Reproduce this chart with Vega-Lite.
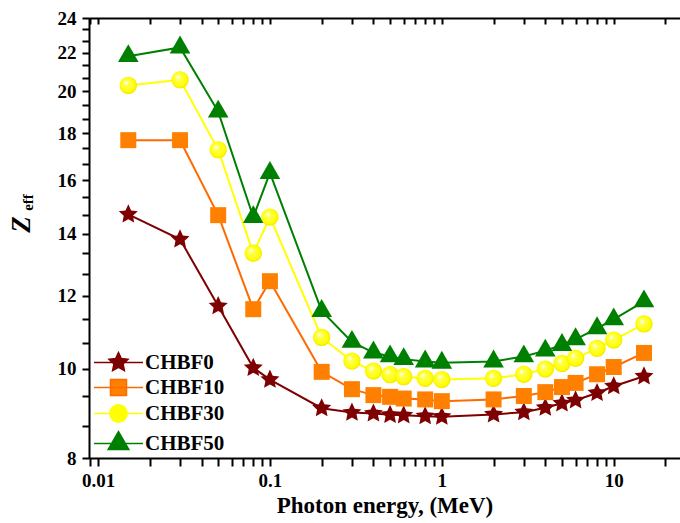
{
"$schema":"https://vega.github.io/schema/vega-lite/v6.json",
"width":591,"height":440,"autosize":"none",
"padding":{"left":89,"top":18,"right":0,"bottom":65},
"background":"white",
"config":{"view":{"stroke":null},"font":"Liberation Serif",
 "axis":{"grid":false,"domainColor":"#000","tickColor":"#000","labelColor":"#000","titleColor":"#000","domainWidth":2,"tickWidth":2,"labelFont":"Liberation Serif","titleFont":"Liberation Serif","labelFontWeight":700,"titleFontWeight":700},
 "legend":{"labelFont":"Liberation Serif","labelFontSize":21,"labelFontWeight":700,"labelColor":"#000"}},
"data":{"values":[
{"s":"CHBF0","E":0.015,"Z":14.70},{"s":"CHBF0","E":0.03,"Z":13.81},{"s":"CHBF0","E":0.05,"Z":11.69},{"s":"CHBF0","E":0.08,"Z":10.02},{"s":"CHBF0","E":0.1,"Z":9.73},{"s":"CHBF0","E":0.2,"Z":9.06},{"s":"CHBF0","E":0.3,"Z":8.96},{"s":"CHBF0","E":0.4,"Z":8.94},{"s":"CHBF0","E":0.5,"Z":8.91},{"s":"CHBF0","E":0.6,"Z":8.90},{"s":"CHBF0","E":0.8,"Z":8.88},{"s":"CHBF0","E":1,"Z":8.87},{"s":"CHBF0","E":2,"Z":8.92},{"s":"CHBF0","E":3,"Z":8.97},{"s":"CHBF0","E":4,"Z":9.07},{"s":"CHBF0","E":5,"Z":9.17},{"s":"CHBF0","E":6,"Z":9.24},{"s":"CHBF0","E":8,"Z":9.41},{"s":"CHBF0","E":10,"Z":9.57},{"s":"CHBF0","E":15,"Z":9.81},
{"s":"CHBF10","E":0.015,"Z":17.69},{"s":"CHBF10","E":0.03,"Z":17.69},{"s":"CHBF10","E":0.05,"Z":14.67},{"s":"CHBF10","E":0.08,"Z":11.6},{"s":"CHBF10","E":0.1,"Z":12.44},{"s":"CHBF10","E":0.2,"Z":9.92},{"s":"CHBF10","E":0.3,"Z":9.50},{"s":"CHBF10","E":0.4,"Z":9.36},{"s":"CHBF10","E":0.5,"Z":9.32},{"s":"CHBF10","E":0.6,"Z":9.28},{"s":"CHBF10","E":0.8,"Z":9.26},{"s":"CHBF10","E":1,"Z":9.22},{"s":"CHBF10","E":2,"Z":9.26},{"s":"CHBF10","E":3,"Z":9.34},{"s":"CHBF10","E":4,"Z":9.43},{"s":"CHBF10","E":5,"Z":9.55},{"s":"CHBF10","E":6,"Z":9.65},{"s":"CHBF10","E":8,"Z":9.86},{"s":"CHBF10","E":10,"Z":10.04},{"s":"CHBF10","E":15,"Z":10.40},
{"s":"CHBF30","E":0.015,"Z":20.28},{"s":"CHBF30","E":0.03,"Z":20.57},{"s":"CHBF30","E":0.05,"Z":17.27},{"s":"CHBF30","E":0.08,"Z":13.34},{"s":"CHBF30","E":0.1,"Z":14.6},{"s":"CHBF30","E":0.2,"Z":10.81},{"s":"CHBF30","E":0.3,"Z":10.19},{"s":"CHBF30","E":0.4,"Z":9.94},{"s":"CHBF30","E":0.5,"Z":9.85},{"s":"CHBF30","E":0.6,"Z":9.80},{"s":"CHBF30","E":0.8,"Z":9.76},{"s":"CHBF30","E":1,"Z":9.73},{"s":"CHBF30","E":2,"Z":9.76},{"s":"CHBF30","E":3,"Z":9.86},{"s":"CHBF30","E":4,"Z":9.99},{"s":"CHBF30","E":5,"Z":10.13},{"s":"CHBF30","E":6,"Z":10.26},{"s":"CHBF30","E":8,"Z":10.52},{"s":"CHBF30","E":10,"Z":10.74},{"s":"CHBF30","E":15,"Z":11.18},
{"s":"CHBF50","E":0.015,"Z":21.82},{"s":"CHBF50","E":0.03,"Z":22.3},{"s":"CHBF50","E":0.05,"Z":19.0},{"s":"CHBF50","E":0.08,"Z":14.6},{"s":"CHBF50","E":0.1,"Z":16.3},{"s":"CHBF50","E":0.2,"Z":11.55},{"s":"CHBF50","E":0.3,"Z":10.69},{"s":"CHBF50","E":0.4,"Z":10.41},{"s":"CHBF50","E":0.5,"Z":10.31},{"s":"CHBF50","E":0.6,"Z":10.24},{"s":"CHBF50","E":0.8,"Z":10.18},{"s":"CHBF50","E":1,"Z":10.15},{"s":"CHBF50","E":2,"Z":10.18},{"s":"CHBF50","E":3,"Z":10.31},{"s":"CHBF50","E":4,"Z":10.46},{"s":"CHBF50","E":5,"Z":10.61},{"s":"CHBF50","E":6,"Z":10.76},{"s":"CHBF50","E":8,"Z":11.06},{"s":"CHBF50","E":10,"Z":11.31},{"s":"CHBF50","E":15,"Z":11.83}
]},
"layer":[
{"mark":{"type":"line","strokeWidth":2},
 "encoding":{
  "x":{"field":"E","type":"quantitative","scale":{"type":"log","domain":[0.00886,24.3],"nice":false},
   "axis":{"orient":"bottom","values":[0.009,0.01,0.02,0.03,0.04,0.05,0.06,0.07,0.08,0.09,0.1,0.2,0.3,0.4,0.5,0.6,0.7,0.8,0.9,1,2,3,4,5,6,7,8,9,10,20],
    "format":"~g","labelExpr":"indexof([0.01,0.1,1,10], datum.value) >= 0 ? datum.label : ''",
    "tickSize":8,"labelPadding":5,"labelFont":"Liberation Serif","labelFontWeight":700,"labelFontSize":19,"labelFlush":false,"labelOverlap":false,
    "title":"Photon energy, (MeV)","titleFont":"Liberation Serif","titleFontWeight":700,"titleFontSize":23,"titlePadding":4}},
  "y":{"field":"Z","type":"quantitative","scale":{"type":"log","domain":[8,24],"nice":false},
   "axis":{"orient":"left","values":[8,8.6667,9.3333,10,10.6667,11.3333,12,12.6667,13.3333,14,14.6667,15.3333,16,16.6667,17.3333,18,18.6667,19.3333,20,20.6667,21.3333,22,22.6667,23.3333,24],
    "labelExpr":"datum.value % 2 === 0 ? format(datum.value, 'd') : ''",
    "tickSize":7,"labelPadding":6,"labelFont":"Liberation Serif","labelFontWeight":700,"labelFontSize":19,"labelOverlap":false,
    "title":"Z","titleFont":"Liberation Serif","titleFontWeight":700,"titleFontSize":27,"titleFontStyle":"italic","titleX":-68,"titleY":206,"titleAlign":"center","titleBaseline":"middle","titleAngle":-90}},
  "color":{"field":"s","type":"nominal","scale":{"domain":["CHBF50","CHBF30","CHBF10","CHBF0"],"range":["#008000","#ffff00","#ff6a00","#7f0000"]},"legend":null}
 }},
{"transform":[{"filter":"datum.s === 'CHBF50'"}],
 "mark":{"type":"point","shape":"M0,-1.49L1.29,0.745L-1.29,0.745Z","filled":true,"fill":"#008000","opacity":1,"size":256,"strokeWidth":0},
 "encoding":{"x":{"field":"E","type":"quantitative","scale":{"type":"log","domain":[0.00886,24.3],"nice":false},"axis":null},
  "y":{"field":"Z","type":"quantitative","scale":{"type":"log","domain":[8,24],"nice":false},"axis":null}}},
{"transform":[{"filter":"datum.s === 'CHBF0'"}],
 "mark":{"type":"point","shape":"M0,-1.25L0.353,-0.486L1.189,-0.386L0.571,0.186L0.735,1.011L0,0.6L-0.735,1.011L-0.571,0.186L-1.189,-0.386L-0.353,-0.486Z","filled":true,"fill":"#7f0000","opacity":1,"size":256,"strokeWidth":0},
 "encoding":{"x":{"field":"E","type":"quantitative","scale":{"type":"log","domain":[0.00886,24.3],"nice":false},"axis":null},
  "y":{"field":"Z","type":"quantitative","scale":{"type":"log","domain":[8,24],"nice":false},"axis":null}}},
{"transform":[{"filter":"datum.s === 'CHBF10'"}],
 "mark":{"type":"point","shape":"M-1,-1H1V1H-1Z","filled":true,"fill":"#ff8000","opacity":1,"size":256,"strokeWidth":0},
 "encoding":{"x":{"field":"E","type":"quantitative","scale":{"type":"log","domain":[0.00886,24.3],"nice":false},"axis":null},
  "y":{"field":"Z","type":"quantitative","scale":{"type":"log","domain":[8,24],"nice":false},"axis":null}}},
{"transform":[{"filter":"datum.s === 'CHBF30'"}],
 "mark":{"type":"point","shape":"M-1.08,0A1.08,1.08,0,1,0,1.08,0A1.08,1.08,0,1,0,-1.08,0Z","filled":true,
  "fill":{"gradient":"radial","x1":0.35,"y1":0.32,"r1":0,"x2":0.5,"y2":0.5,"r2":0.55,"stops":[{"offset":0,"color":"#ffffff"},{"offset":0.3,"color":"#ffff50"},{"offset":0.75,"color":"#ffff00"},{"offset":1,"color":"#eedd00"}]},
  "opacity":1,"size":256,"strokeWidth":0},
 "encoding":{"x":{"field":"E","type":"quantitative","scale":{"type":"log","domain":[0.00886,24.3],"nice":false},"axis":null},
  "y":{"field":"Z","type":"quantitative","scale":{"type":"log","domain":[8,24],"nice":false},"axis":null}}},
{"transform":[{"filter":"datum.E < 0"}],
 "mark":{"type":"point","filled":true,"opacity":1,"size":256,"strokeWidth":2},
 "encoding":{
  "x":{"field":"E","type":"quantitative","scale":{"type":"log","domain":[0.00886,24.3],"nice":false},
   "axis":{"orient":"top","values":[0.009,0.01,0.02,0.03,0.04,0.05,0.06,0.07,0.08,0.09,0.1,0.2,0.3,0.4,0.5,0.6,0.7,0.8,0.9,1,2,3,4,5,6,7,8,9,10,20],"labels":false,"tickSize":-6,"title":null}},
  "y":{"field":"Z","type":"quantitative","scale":{"type":"log","domain":[8,24],"nice":false},
   "axis":{"orient":"left","domain":false,"ticks":false,"labels":false,"title":"eff","titleFont":"Liberation Serif","titleFontWeight":700,"titleFontSize":15,"titleX":-62,"titleY":184,"titleAlign":"center","titleBaseline":"middle","titleAngle":-90}},
  "shape":{"field":"s","type":"nominal","scale":{"domain":["CHBF0","CHBF10","CHBF30","CHBF50"],"range":[
    "M-3.06,0H3.06M0,-1.25L0.353,-0.486L1.189,-0.386L0.571,0.186L0.735,1.011L0,0.6L-0.735,1.011L-0.571,0.186L-1.189,-0.386L-0.353,-0.486Z",
    "M-3.06,0H3.06M-1,-1H1V1H-1Z",
    "M-3.06,0H3.06M-1.08,0A1.08,1.08,0,1,0,1.08,0A1.08,1.08,0,1,0,-1.08,0Z",
    "M-3.06,0H3.06M0,-1.49L1.29,0.745L-1.29,0.745Z"]},
   "legend":{"title":null,"orient":"none","legendX":19,"legendY":334,"labelOffset":16,"rowPadding":2,"padding":0,"symbolSize":256,"labelFontWeight":700,"labelFontSize":21}},
  "fill":{"field":"s","type":"nominal","scale":{"domain":["CHBF0","CHBF10","CHBF30","CHBF50"],"range":["#7f0000","#ff8000","#ffff00","#008000"]},
   "legend":{"title":null,"orient":"none","legendX":19,"legendY":334,"labelOffset":16,"rowPadding":2,"padding":0,"symbolSize":256,"labelFontWeight":700,"labelFontSize":21}},
  "stroke":{"field":"s","type":"nominal","scale":{"domain":["CHBF0","CHBF10","CHBF30","CHBF50"],"range":["#7f0000","#ff6a00","#ffff00","#008000"]},
   "legend":{"title":null,"orient":"none","legendX":19,"legendY":334,"labelOffset":16,"rowPadding":2,"padding":0,"symbolSize":256,"labelFontWeight":700,"labelFontSize":21}}
 }}
],
"resolve":{"axis":{"x":"independent","y":"independent"}}
}
